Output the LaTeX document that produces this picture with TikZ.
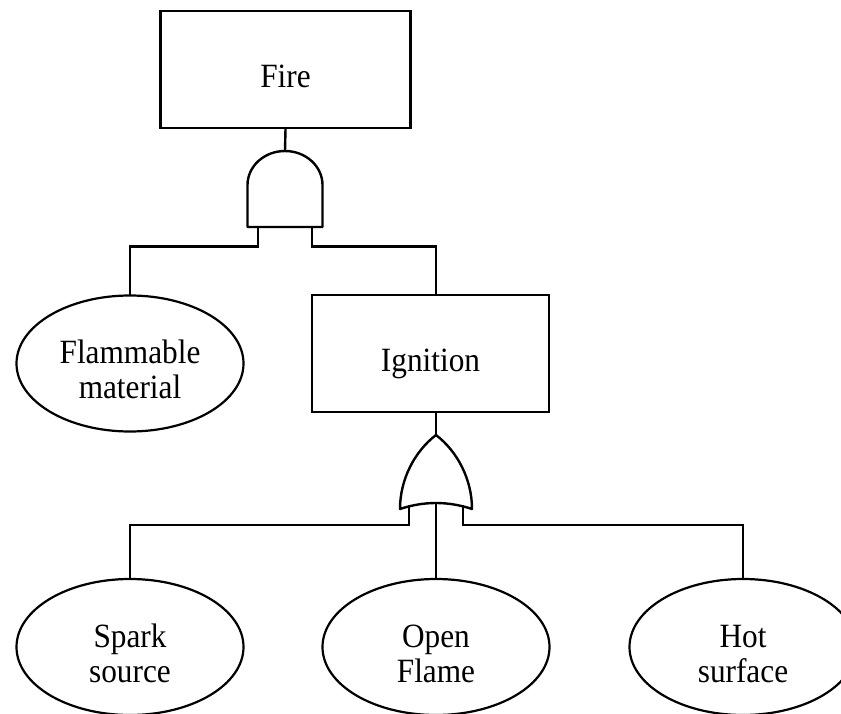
\documentclass[tikz,border=0pt]{standalone}
\usepackage{fontspec}
\setmainfont{Liberation Serif}[FakeStretch=0.92]
\usetikzlibrary{shapes.geometric}
% raises the top of the text box so the words sit a little below centre
\newcommand{\lift}{\rule{0pt}{36pt}}
\begin{document}
\begin{tikzpicture}[x=1pt,y=-1pt,
  every node/.style={font=\fontsize{34}{35}\selectfont},
  wire/.style={line width=2.4pt, line cap=rect},
  gate/.style={line width=2.4pt, line join=round},
  eventbox/.style={draw, line width=2.4pt, rectangle, inner sep=0pt,
    minimum width=250pt, minimum height=117pt, text depth=0pt},
  basic/.style={draw, line width=2.2pt, ellipse, inner sep=0pt,
    minimum width=227pt, minimum height=136pt, align=center}]
  \fill[white] (0,0) rectangle (841,714);
  \useasboundingbox (0,0) rectangle (841,714);

  % events
  \node[eventbox] (fire) at (285.5,69.5) {\lift Fire};
  \node[eventbox, minimum width=237pt] (ign) at (430.5,353.5) {\lift Ignition};
  \node[basic] (flam) at (130,363.5) {\lift Flammable\\material};
  \node[basic] (spark) at (130,647) {\lift Spark\\source};
  \node[basic] (flame) at (436,647) {\lift Open\\Flame};
  \node[basic] (hot) at (743,647) {\lift Hot\\surface};

  % AND gate
  \coordinate (andtop) at (285,151);
  \coordinate (andL) at (258,227);
  \coordinate (andR) at (312,227);
  \draw[gate] (247.5,227) -- (247.5,185)
    arc[start angle=180, end angle=0, x radius=37.5pt, y radius=34pt]
    -- (322.5,227) -- cycle;

  % OR gate
  \coordinate (ortip) at (436,435);
  \coordinate (orL) at (409,506.5);
  \coordinate (orC) at (436,504);
  \coordinate (orR) at (463,506.5);
  \draw[gate] (400,509) .. controls (400,480) and (414,452) .. (ortip)
    .. controls (458,452) and (472,480) .. (472,509)
    .. controls (448,501) and (424,501) .. cycle;

  % connectors
  \draw[wire] (fire.south) -- (andtop);
  \draw[wire] (andL) -- ++(0,19.5) -| (flam.north);
  \draw[wire] (andR) -- ++(0,19.5) -| (ign.north -| ortip);
  \draw[wire] (ign.south -| ortip) -- (ortip);
  \draw[wire] (orL) -- ++(0,18.5) -| (spark.north);
  \draw[wire] (orC) -- (flame.north);
  \draw[wire] (orR) -- ++(0,18.5) -| (hot.north);
\end{tikzpicture}
\end{document}
